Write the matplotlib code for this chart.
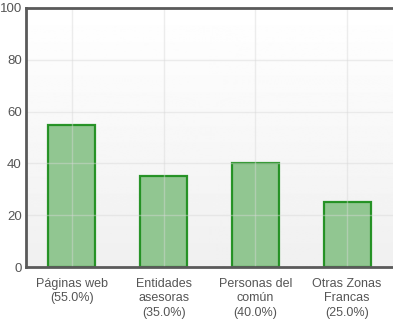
import numpy as np
import matplotlib
matplotlib.use("Agg")
import matplotlib.pyplot as plt

categories = ["Páginas web\n(55.0%)", "Entidades\nasesoras\n(35.0%)",
              "Personas del\ncomún\n(40.0%)", "Otras Zonas\nFrancas\n(25.0%)"]
values = [55, 35, 40, 25]
yticks = [0, 20, 40, 60, 80, 100]

plt.rcParams['font.family'] = ['Liberation Sans Narrow', 'Liberation Sans', 'DejaVu Sans']

W, H = 393, 322
fig = plt.figure(figsize=(W / 100, H / 100), dpi=100)
ax = fig.add_axes([26 / W, (H - 267) / H, (W - 26) / W, (267 - 8) / H])

# background gradient, white at top to light gray at bottom
grad = np.linspace(0.94, 1.0, 256).reshape(-1, 1)
ax.imshow(grad, extent=[0, 1, 0, 1], transform=ax.transAxes, cmap='gray',
          vmin=0, vmax=1, aspect='auto', origin='lower', zorder=0)

x = np.arange(len(values))
ax.bar(x, values, width=0.51, color='#8cc48c', alpha=0.95, edgecolor='#1e8f1e',
       linewidth=1.6, zorder=2)

ax.set_xlim(-0.5, len(values) - 0.5)
ax.set_ylim(0, 100)
ax.set_yticks(yticks)
ax.set_xticks(x)
ax.set_xticklabels(categories, linespacing=1.25)
ax.grid(True, color='#d8d8d8', linewidth=1, zorder=1)
ax.set_axisbelow(False)
for gl in ax.get_xgridlines() + ax.get_ygridlines():
    gl.set_zorder(3)
    gl.set_alpha(0.45)

ax.tick_params(axis='both', length=0, colors='#555555', labelsize=9, pad=3)
ax.tick_params(axis='y', labelsize=9.5)
ax.tick_params(axis='x', pad=8)
ax.spines['right'].set_visible(False)
for side in ['top', 'left', 'bottom']:
    ax.spines[side].set_color('#5a5a5a')
    ax.spines[side].set_linewidth(2)
for s in ax.spines.values():
    s.set_zorder(4)

fig.savefig("out.png", dpi=100)
